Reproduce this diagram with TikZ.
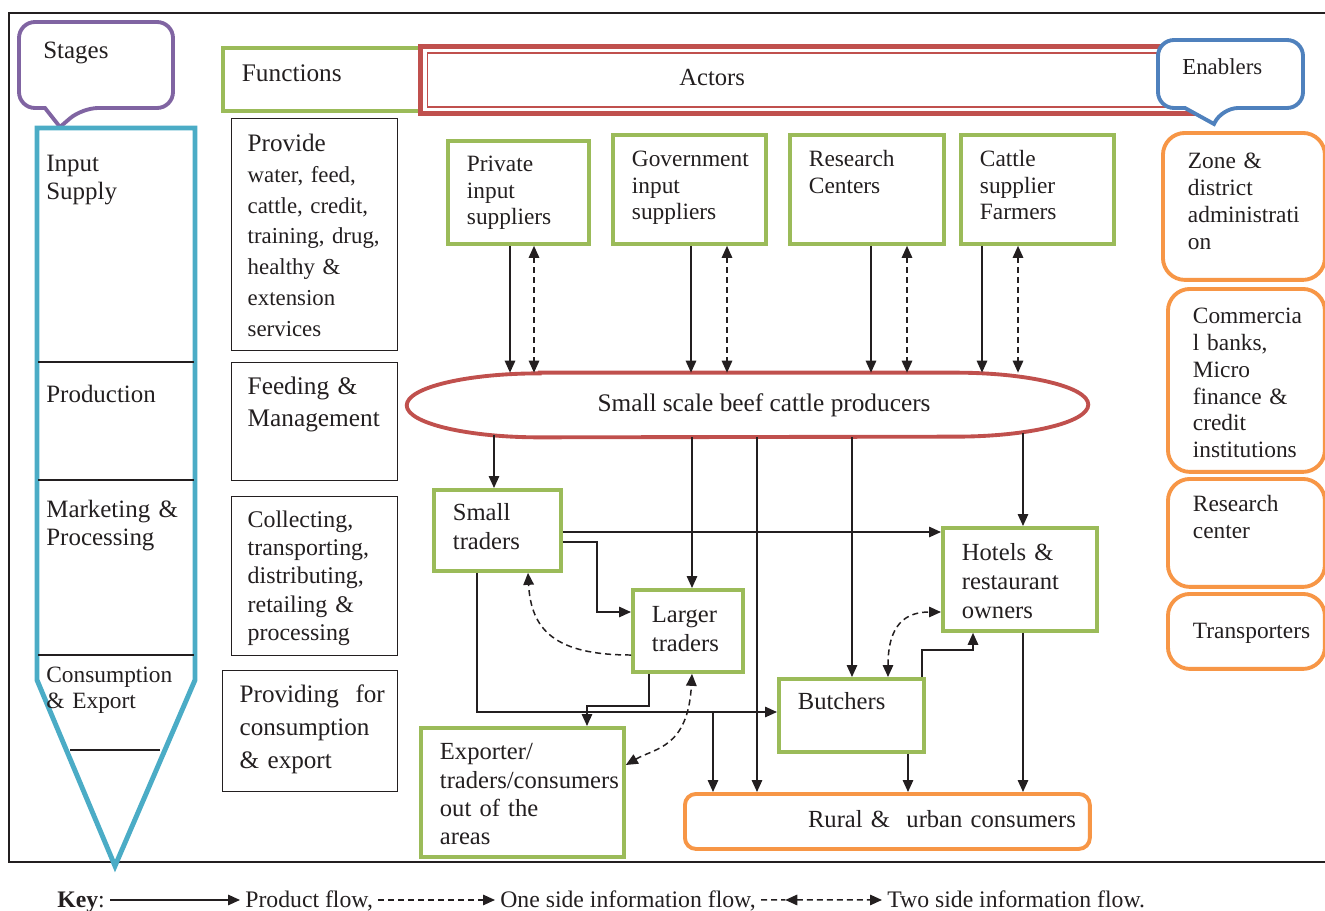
\documentclass[tikz,border=0pt]{standalone}
\usepackage{fontspec}
\setmainfont{Liberation Serif}
\usetikzlibrary{arrows.meta,calc}
\definecolor{leafgreen}{RGB}{155,187,89}
\definecolor{brickred}{RGB}{192,80,77}
\definecolor{enabler}{RGB}{247,150,70}
\definecolor{stagecyan}{RGB}{75,172,198}
\definecolor{stagepurple}{RGB}{128,100,162}
\definecolor{calloutblue}{RGB}{79,129,189}
\definecolor{inkdark}{RGB}{35,31,32}
\hyphenpenalty=10000
\exhyphenpenalty=10000
\newcommand{\supfont}{\fontsize{13.3}{15.1}\selectfont}
\newcommand{\tradefont}{\fontsize{14}{16}\selectfont}
\newcommand{\enabfont}{\fontsize{13.3}{15.2}\selectfont}
\newcommand{\stagefont}{\fontsize{14.2}{16.2}\selectfont}
\tikzset{
  flow/.style={-{Triangle[length=2.4mm,width=2.1mm]}, line width=0.85pt, draw=inkdark},
  info/.style={flow, dash pattern=on 1.2mm off 0.8mm},
  infoboth/.style={info, {Triangle[length=2.4mm,width=2.1mm]}-{Triangle[length=2.4mm,width=2.1mm]}},
  infoline/.style={line width=0.85pt, draw=inkdark, dash pattern=on 1.2mm off 0.8mm},
  box/.style={anchor=north west, align=left, inner ysep=0pt, text=inkdark, fill=white},
  actorbox/.style={box, draw=leafgreen, line width=2.2pt, inner xsep=0.38cm},
  funcbox/.style={box, draw=inkdark, line width=0.8pt, inner xsep=0.32cm},
  enabbox/.style={box, draw=enabler, line width=2.2pt, rounded corners=0.44cm, inner xsep=0.5cm, font=\enabfont},
  stagetext/.style={anchor=base west, align=left, inner sep=0pt, text width=3cm, text=inkdark},
  callout/.style={line width=2.2pt, fill=white},
  keytext/.style={anchor=base west, inner xsep=0.1cm, inner ysep=0pt, text height=10.5pt, text depth=2.5pt, text=inkdark, font=\fontsize{13.5}{16}\selectfont}
}

\begin{document}
\begin{tikzpicture}[x=0.02cm, y=-0.02cm]
  \useasboundingbox (0,0) rectangle (1325,910);
  \clip (0,0) rectangle (1325,910);

  % frame
  \draw[inkdark, line width=0.8pt] (9,13) rectangle (1340,862);

  % Stages
  \draw[stagepurple, callout] (19,60) [rounded corners=0.32cm] -- (19,22) -- (173,22) -- (173,108) -- (82,108) [sharp corners] -- (60,127) -- (45,108) [rounded corners=0.32cm] -- (19,108) -- cycle;
  \node[anchor=base west, inner sep=0pt, text=inkdark, font=\stagefont] (stagehead) at (43,58) {Stages};

  \draw[stagecyan, line width=2.8pt] (37,128) -- (195,128) -- (195,680) -- (115,866) -- (37,680) -- cycle;
  \draw[inkdark, line width=0.7pt] (38,362) -- (194,362) (38,480) -- (194,480) (38,655) -- (194,655) (70,750) -- (160,750);

  \node[stagetext, font=\stagefont] (inputstage) at (46,171) {Input\\Supply};
  \node[stagetext, font=\stagefont] (prodstage) at (46,402) {Production};
  \node[stagetext, font=\stagefont] (mktstage) at (46,517) {Marketing \&\\Processing};
  \node[stagetext, font=\fontsize{13.3}{14.8}\selectfont] (consstage) at (46,682) {Consumption\\\& Export};

  % Functions
  \node[actorbox, font=\fontsize{14.4}{17}\selectfont, text width=3.18cm, text height=0.68cm, text depth=0.58cm] (funchead) at (221,46) {Functions};

  \node[funcbox, font=\fontsize{13}{17.5}\selectfont, text width=2.68cm, text height=0.66cm, text depth=3.98cm] (fsupply) at (231,118) {{\fontsize{14.3}{17.5}\selectfont Provide}\\water, feed,\\cattle, credit,\\training, drug,\\healthy \&\\extension\\services};
  \node[funcbox, font=\fontsize{14.4}{18.2}\selectfont, text width=2.68cm, text height=0.64cm, text depth=1.72cm] (fprod) at (231,362) {Feeding \&\\Management};
  \node[funcbox, font=\fontsize{13.6}{16}\selectfont, text width=2.68cm, text height=0.62cm, text depth=2.56cm] (fmarket) at (231,496) {Collecting,\\transporting,\\distributing,\\retailing \&\\processing};
  \node[funcbox, font=\fontsize{14.3}{18.8}\selectfont, inner xsep=0.34cm, text width=2.82cm, text height=0.64cm, text depth=1.78cm] (fcons) at (222,670) {\mbox{Providing\ \ for}\\consumption\\\& export};

  % Actors
  \node[box, draw=brickred, line width=2.8pt, inner xsep=0pt, text width=15.54cm, text height=0.78cm, text depth=0.56cm, font=\fontsize{14}{16}\selectfont] (actors) at (418,44) {\hspace*{5.18cm}Actors};
  \draw[brickred, line width=1pt] ([shift={(0.19cm,-0.18cm)}]actors.north west) rectangle ([shift={(-0.19cm,0.18cm)}]actors.south east);

  % Enablers
  \draw[calloutblue, callout] (1158,74) [rounded corners=0.32cm] -- (1158,40) -- (1303,40) -- (1303,108) -- (1222,108) [sharp corners] -- (1214,124) -- (1185,108) [rounded corners=0.32cm] -- (1158,108) -- cycle;
  \node[anchor=base west, inner sep=0pt, text=inkdark, font=\fontsize{13}{15}\selectfont] (enabhead) at (1182,74) {Enablers};

  \node[enabbox, text width=2.24cm, text height=0.72cm, text depth=2.22cm] (zone) at (1161,131) {Zone \&\\district\\administrati\\on};
  \node[enabbox, text width=2.14cm, text height=0.70cm, text depth=2.96cm] (banks) at (1166,287) {Commercia\\l banks,\\Micro\\finance \&\\credit\\institutions};
  \node[enabbox, text width=2.14cm, text height=0.66cm, text depth=1.50cm] (rescenter) at (1166,477) {Research\\center};
  \node[enabbox, text width=2.14cm, text height=0.90cm, text depth=0.60cm] (transp) at (1166,592) {Transporters};

  % Input suppliers
  \node[actorbox, font=\supfont, text width=2.06cm, text height=0.62cm, text depth=1.44cm] (priv) at (446,139) {Private\\input\\suppliers};
  \node[actorbox, font=\supfont, text width=2.30cm, text height=0.64cm, text depth=1.54cm] (gov) at (611,133) {Government\\input\\suppliers};
  \node[actorbox, font=\supfont, text width=2.32cm, text height=0.64cm, text depth=1.54cm] (research) at (788,133) {Research\\Centers};
  \node[actorbox, font=\supfont, text width=2.30cm, text height=0.64cm, text depth=1.54cm] (cattle) at (959,133) {Cattle\\supplier\\Farmers};

  % Producers
  \node[inner sep=0pt, minimum width=13.62cm, minimum height=1.28cm, text=inkdark, font=\fontsize{14.4}{17}\selectfont] (prod) at (747.5,405) {\hspace*{0.66cm}Small scale beef cattle producers};
  \draw[brickred, line width=2.2pt] ([xshift=2.66cm]prod.north west) -- ([xshift=-2.66cm]prod.north east) arc[start angle=90, end angle=-90, x radius=2.66cm, y radius=0.64cm] -- ([xshift=2.66cm]prod.south west) arc[start angle=270, end angle=90, x radius=2.66cm, y radius=0.64cm] -- cycle;

  % Traders and consumers
  \node[actorbox, font=\tradefont, text width=1.78cm, text height=0.62cm, text depth=1.00cm] (small) at (432,488) {Small\\traders};
  \node[actorbox, font=\tradefont, text width=1.44cm, text height=0.66cm, text depth=0.98cm] (larger) at (631,588) {Larger\\traders};
  \node[actorbox, font=\fontsize{14}{16.5}\selectfont, text width=2.32cm, text height=0.66cm, text depth=1.40cm] (hotels) at (941,526) {Hotels \&\\restaurant\\owners};
  \node[actorbox, font=\tradefont, text width=2.14cm, text height=0.62cm, text depth=0.84cm] (butchers) at (777,677) {Butchers};
  \node[actorbox, font=\fontsize{14}{16.1}\selectfont, text width=3.30cm, text height=0.64cm, text depth=1.94cm] (exporter) at (419,726) {Exporter/\\traders/consumers\\out of the\\areas};
  \node[box, draw=enabler, line width=2.2pt, rounded corners=0.22cm, align=right, inner xsep=0.28cm, text width=7.54cm, text height=0.68cm, text depth=0.42cm, font=\tradefont] (rural) at (683,792) {Rural \& \ urban consumers};

  % Input supply flows
  \draw[flow] (priv.south -| 510,0) -- (prod.north -| 510,0);
  \draw[infoboth] (priv.south -| 534,0) -- (prod.north -| 534,0);
  \draw[flow] (gov.south -| 691,0) -- (prod.north -| 691,0);
  \draw[infoboth] (gov.south -| 727,0) -- (prod.north -| 727,0);
  \draw[flow] (research.south -| 871,0) -- (prod.north -| 871,0);
  \draw[infoboth] (research.south -| 907,0) -- (prod.north -| 907,0);
  \draw[flow] (cattle.south -| 982,0) -- (prod.north -| 982,0);
  \draw[infoboth] (cattle.south -| 1018,0) -- (prod.north -| 1018,0);

  % Market flows
  \draw[flow, shorten <=-0.04cm] (prod.south -| 494,0) -- (small.north -| 494,0);
  \draw[flow] (prod.south -| 692,0) -- (larger.north -| 692,0);
  \draw[flow] (prod.south -| 757,0) -- (rural.north -| 757,0);
  \draw[flow] (prod.south -| 852,0) -- (butchers.north -| 852,0);
  \draw[flow, shorten <=-0.09cm] (prod.south -| 1023,0) -- (hotels.north -| 1023,0);

  \draw[flow] (small.east |- 0,532) -- (hotels.west |- 0,532);
  \draw[flow] (small.east |- 0,542) -- (597,542) |- (larger.west |- 0,612);
  \draw[info] (larger.west |- 0,655) .. controls (555,655) and (531,630) .. (small.south -| 528,0);
  \draw[flow] (small.south -| 477,0) |- (butchers.west |- 0,712);
  \coordinate (split) at (713,712);
  \draw[flow] (split) -- (rural.north -| 713,0);
  \draw[flow] (larger.south -| 649,0) -- (649,706) -| (exporter.north -| 587,0);
  \draw[infoboth] (exporter.east |- 0,765) .. controls (655,748) and (688,748) .. (larger.south -| 692,0);
  \draw[flow] (butchers.south -| 908,0) -- (rural.north -| 908,0);
  \draw[flow] (hotels.south -| 1023,0) -- (rural.north -| 1023,0);
  \draw[flow] (butchers.north -| 922,0) -- (922,650) -| (hotels.south -| 973,0);
  \draw[infoboth] (butchers.north -| 888,0) .. controls (888,625) and (905,612) .. (hotels.west |- 0,612);

  % Key
  \node[keytext] (keyword) at (52,907) {\textbf{Key}:};
  \node[keytext] (prodkey) at (240,907) {Product flow,};
  \node[keytext] (onekey) at (495,907) {One side information flow,};
  \node[keytext] (twokey) at (882,907) {Two side information flow.};
  \draw[flow] (keyword.east) -- (prodkey.west);
  \draw[info] (prodkey.east) -- (onekey.west);
  \coordinate (twostart) at ($(onekey.east)!0.2!(twokey.west)$);
  \draw[infoline] (onekey.east) -- (twostart);
  \draw[infoboth] (twostart) -- (twokey.west);
\end{tikzpicture}
\end{document}
